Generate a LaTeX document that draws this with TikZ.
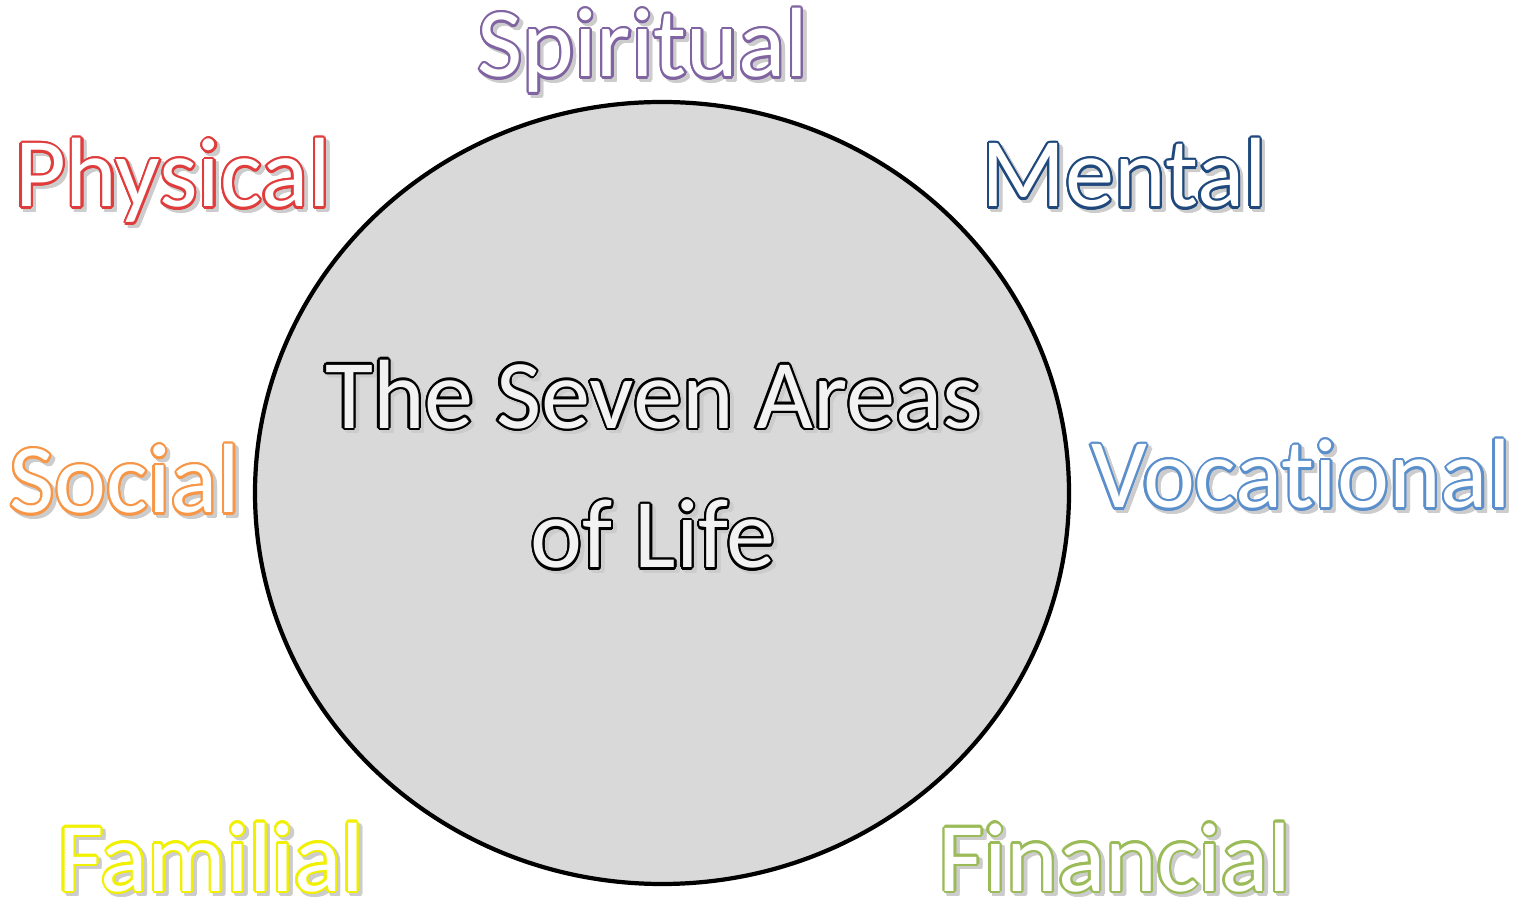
\documentclass[tikz,border=0pt]{standalone}
\usepackage{fontspec}
\setmainfont{Carlito}[Ligatures={NoCommon,NoContextual}]
\usepackage{contour}
\usetikzlibrary{shapes.geometric}

\contourlength{0.65pt}
\definecolor{spiritcol}{HTML}{8064A2}
\definecolor{physcol}{HTML}{E03C3C}
\definecolor{mentcol}{HTML}{1F497D}
\definecolor{soccol}{HTML}{F79646}
\definecolor{voccol}{HTML}{5B8FCB}
\definecolor{famcol}{HTML}{F0F000}
\definecolor{fincol}{HTML}{9BBB59}
\definecolor{lifegrey}{HTML}{D9D9D9}

% outlined word with a soft drop shadow
\newcommand{\areatext}[3][white]{%
  \leavevmode\rlap{\kern1pt\raisebox{-1pt}{\contour{black!20}{\color{black!20}#3}}}%
  \contour{#2}{\color{#1}#3}}

\tikzset{area/.style={anchor=base, inner sep=0pt, font=\fontsize{28}{34}\selectfont}}

\begin{document}
\begin{tikzpicture}
\useasboundingbox (0,0) rectangle (15.28,8.98);

\node[ellipse, draw, line width=1.2pt, fill=lifegrey, minimum width=8.14cm, minimum height=7.82cm] (life) at (6.62,4.05) {};
% base anchor sits on the last line
\node[area, align=center, font=\fontsize{28}{39.8}\selectfont] (title) at (6.53,3.30)
  {\areatext[black!5]{black}{The Seven Areas}\\\areatext[black!5]{black}{of Life}};

% the seven areas round the circle
\foreach \name/\col/\x/\y in {Spiritual/spiritcol/6.43/8.21, Physical/physcol/1.73/6.91,
    Mental/mentcol/11.24/6.91, Social/soccol/1.25/3.85, Vocational/voccol/13.01/3.90,
    Familial/famcol/2.11/0.07, Financial/fincol/11.15/0.07}
  \node[area] (\name) at (\x,\y) {\areatext{\col}{\name}};
\end{tikzpicture}
\end{document}
